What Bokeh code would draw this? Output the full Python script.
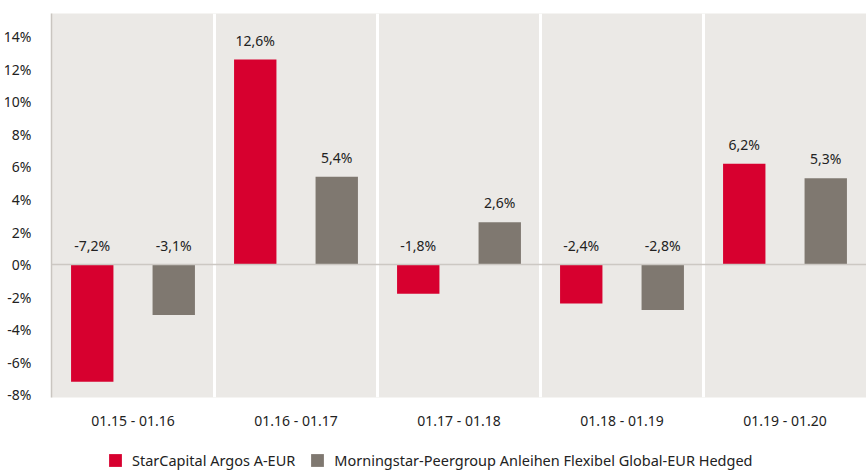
from bokeh.plotting import figure
from bokeh.layouts import column
from bokeh.models import FactorRange, Range1d, Span, FixedTicker, PrintfTickFormatter, ColumnDataSource, Legend
from bokeh.transform import dodge
from bokeh.core.properties import value
from bokeh.embed import file_html
from bokeh.resources import INLINE

periods = ["01.15 - 01.16", "01.16 - 01.17", "01.17 - 01.18", "01.18 - 01.19", "01.19 - 01.20"]
fund = [-7.2, 12.6, -1.8, -2.4, 6.2]
peer = [-3.1, 5.4, 2.6, -2.8, 5.3]
series_names = ["StarCapital Argos A-EUR", "Morningstar-Peergroup Anleihen Flexibel Global-EUR Hedged"]
y_ticks = [-8, -6, -4, -2, 0, 2, 4, 6, 8, 10, 12, 14]

RED = "#D7002F"
GREY = "#7F7870"
BG = "#EBE9E6"
FONT = "Noto Sans"
TXT = "#222222"

def fmt(v):
    return ("%.1f" % v).replace(".", ",") + "%"

src = ColumnDataSource(dict(
    period=periods,
    fund=fund,
    peer=peer,
    fund_lbl_y=[max(v, 0) for v in fund],
    peer_lbl_y=[max(v, 0) for v in peer],
    fund_lbl=[fmt(v) for v in fund],
    peer_lbl=[fmt(v) for v in peer],
))

p = figure(width=866, height=432, output_backend="svg", toolbar_location=None,
           x_range=FactorRange(factors=periods, range_padding=0),
           y_range=Range1d(-8.17, 15.43),
           min_border_left=51, min_border_right=0, min_border_top=13, min_border_bottom=35)
p.background_fill_color = BG
p.border_fill_color = "white"
p.outline_line_color = None
p.xgrid.visible = False
p.ygrid.visible = False

for loc in [1, 2, 3, 4]:
    p.add_layout(Span(location=loc, dimension="height", line_color="white", line_width=3))
p.add_layout(Span(location=0, dimension="width", line_color="#CCC8C3", line_width=1.5))

r1 = p.vbar(x=dodge("period", -0.25, range=p.x_range), top="fund", bottom=0, width=0.26,
            source=src, fill_color=RED, line_color=None)
r2 = p.vbar(x=dodge("period", 0.25, range=p.x_range), top="peer", bottom=0, width=0.26,
            source=src, fill_color=GREY, line_color=None)

for col, ycol, off in [("fund_lbl", "fund_lbl_y", -0.25), ("peer_lbl", "peer_lbl_y", 0.25)]:
    p.text(x=dodge("period", off, range=p.x_range), y=ycol, text=col, source=src,
           text_align="center", text_baseline="bottom", y_offset=-10,
           text_font=value(FONT), text_font_size="14px", text_color=TXT)

p.yaxis.ticker = FixedTicker(ticks=y_ticks)
p.yaxis.formatter = PrintfTickFormatter(format="%d%%")
p.yaxis.axis_line_color = "#C9C5C0"
p.yaxis.axis_line_width = 1.5
p.yaxis.major_tick_line_color = None
p.yaxis.minor_tick_line_color = None
p.yaxis.major_label_text_font = FONT
p.yaxis.major_label_text_font_size = "14px"
p.yaxis.major_label_text_color = TXT
p.yaxis.major_label_standoff = 14

p.xaxis.axis_line_color = None
p.xaxis.major_tick_line_color = None
p.xaxis.minor_tick_line_color = None
p.xaxis.major_label_text_font = FONT
p.xaxis.major_label_text_font_size = "14px"
p.xaxis.major_label_text_color = TXT
p.xaxis.major_label_standoff = 7

# legend-only strip
lg = figure(width=866, height=38, output_backend="svg", toolbar_location=None,
            x_range=Range1d(0, 1), y_range=Range1d(0, 1),
            min_border=0)
lg.outline_line_color = None
lg.axis.visible = False
lg.grid.visible = False
lg.background_fill_color = "white"
lg.border_fill_color = "white"
e = ColumnDataSource(dict(x=[-5.0], t=[-5.0]))
l1 = lg.vbar(x="x", top="t", bottom=-6, width=0.1, source=e, fill_color=RED, line_color=None)
l2 = lg.vbar(x="x", top="t", bottom=-6, width=0.1, source=e, fill_color=GREY, line_color=None)
legend = Legend(items=[(series_names[0], [l1]), (series_names[1], [l2])],
                orientation="horizontal", location=(56, 0),
                label_text_font=FONT, label_text_font_size="14.5px", label_text_color=TXT,
                glyph_width=16, glyph_height=16, spacing=14, label_standoff=9,
                border_line_color=None, background_fill_alpha=0, padding=0, margin=0,
                label_height=16)
lg.add_layout(legend, "center")

layout = column(p, lg, spacing=0)
open("out.html", "w").write(file_html(layout, INLINE))
